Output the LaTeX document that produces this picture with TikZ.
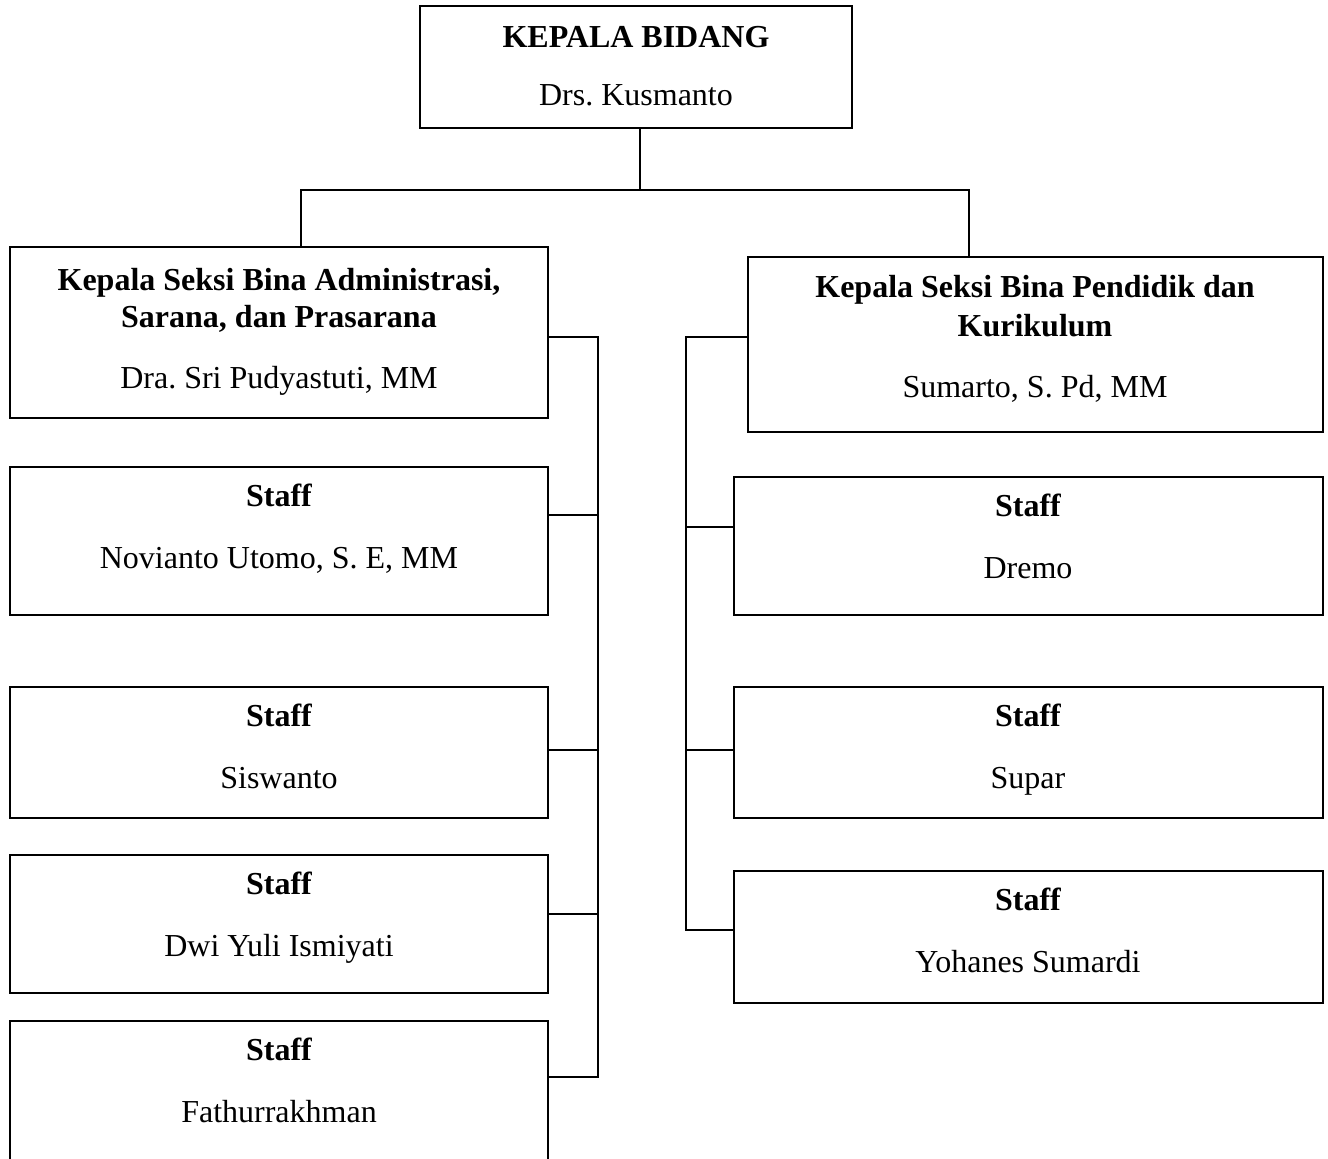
\documentclass[tikz,border=0pt]{standalone}
\usepackage{fontspec}
\setmainfont{Liberation Serif}
\frenchspacing
\begin{document}
\begin{tikzpicture}[x=1pt,y=-1pt,
  boxstyle/.style={draw=black,line width=2pt,fill=none},
  conn/.style={draw=black,line width=2pt,line cap=rect},
  ttl/.style={anchor=base,inner sep=0pt,font=\fontsize{32}{38}\selectfont\frenchspacing\bfseries},
  nm/.style={anchor=base,inner sep=0pt,font=\fontsize{32}{38}\selectfont\frenchspacing}]
\useasboundingbox (0,0) rectangle (1328,1159);
% boxes
\path[boxstyle] (420,6) rectangle (852,128);
\node[inner sep=0pt,minimum width=432pt,minimum height=122pt] (top) at (636,67) {};
\path[boxstyle] (10,247) rectangle (548,418);
\node[inner sep=0pt,minimum width=538pt,minimum height=171pt] (lhead) at (279,332.5) {};
\path[boxstyle] (748,257) rectangle (1323,432);
\node[inner sep=0pt,minimum width=575pt,minimum height=175pt] (rhead) at (1035.5,344.5) {};
\path[boxstyle] (10,467) rectangle (548,615);
\node[inner sep=0pt,minimum width=538pt,minimum height=148pt] (l1) at (279,541) {};
\path[boxstyle] (10,687) rectangle (548,818);
\node[inner sep=0pt,minimum width=538pt,minimum height=131pt] (l2) at (279,752.5) {};
\path[boxstyle] (10,855) rectangle (548,993);
\node[inner sep=0pt,minimum width=538pt,minimum height=138pt] (l3) at (279,924) {};
\path[boxstyle] (10,1021) rectangle (548,1163);
\node[inner sep=0pt,minimum width=538pt,minimum height=142pt] (l4) at (279,1092) {};
\path[boxstyle] (734,477) rectangle (1323,615);
\node[inner sep=0pt,minimum width=589pt,minimum height=138pt] (r1) at (1028.5,546) {};
\path[boxstyle] (734,687) rectangle (1323,818);
\node[inner sep=0pt,minimum width=589pt,minimum height=131pt] (r2) at (1028.5,752.5) {};
\path[boxstyle] (734,871) rectangle (1323,1003);
\node[inner sep=0pt,minimum width=589pt,minimum height=132pt] (r3) at (1028.5,937) {};
% texts
\node[ttl] (t1) at (636,47) {KEPALA BIDANG};
\node[nm] (t2) at (636,105) {Drs. Kusmanto};
\node[ttl] (t3) at (279,290) {Kepala Seksi Bina Administrasi,};
\node[ttl] (t4) at (279,327) {Sarana, dan Prasarana};
\node[nm] (t5) at (279,388) {Dra. Sri Pudyastuti, MM};
\node[ttl] (t6) at (1035,297) {Kepala Seksi Bina Pendidik dan};
\node[ttl] (t7) at (1035,336) {Kurikulum};
\node[nm] (t8) at (1035,397) {Sumarto, S. Pd, MM};
\node[ttl] (s1) at (279,506) {Staff};
\node[nm] (n1) at (279,568) {Novianto Utomo, S. E, MM};
\node[ttl] (s2) at (279,726) {Staff};
\node[nm] (n2) at (279,788) {Siswanto};
\node[ttl] (s3) at (279,894) {Staff};
\node[nm] (n3) at (279,956) {Dwi Yuli Ismiyati};
\node[ttl] (s4) at (279,1060) {Staff};
\node[nm] (n4) at (279,1122) {Fathurrakhman};
\node[ttl] (s5) at (1028,516) {Staff};
\node[nm] (n5) at (1028,578) {Dremo};
\node[ttl] (s6) at (1028,726) {Staff};
\node[nm] (n6) at (1028,788) {Supar};
\node[ttl] (s7) at (1028,910) {Staff};
\node[nm] (n7) at (1028,972) {Yohanes Sumardi};
% connector coordinates
\coordinate (jt) at (640,190);
\coordinate (jl) at (301,190);
\coordinate (jr) at (969,190);
\coordinate (lb0) at (598,337);
\coordinate (lb1) at (598,515);
\coordinate (lb2) at (598,750);
\coordinate (lb3) at (598,914);
\coordinate (lb4) at (598,1077);
\coordinate (rb0) at (686,337);
\coordinate (rb1) at (686,527);
\coordinate (rb2) at (686,750);
\coordinate (rb3) at (686,930);
% connectors
\draw[conn] (top.south -| jt) -- (jt);
\draw[conn] (jl) -- (jr);
\draw[conn] (jl) -- (jl |- lhead.north);
\draw[conn] (jr) -- (jr |- rhead.north);
\draw[conn] (lhead.east |- lb0) -- (lb0) -- (lb4);
\draw[conn] (l1.east |- lb1) -- (lb1);
\draw[conn] (l2.east |- lb2) -- (lb2);
\draw[conn] (l3.east |- lb3) -- (lb3);
\draw[conn] (l4.east |- lb4) -- (lb4);
\draw[conn] (rhead.west |- rb0) -- (rb0) -- (rb3);
\draw[conn] (r1.west |- rb1) -- (rb1);
\draw[conn] (r2.west |- rb2) -- (rb2);
\draw[conn] (r3.west |- rb3) -- (rb3);
\end{tikzpicture}
\end{document}
